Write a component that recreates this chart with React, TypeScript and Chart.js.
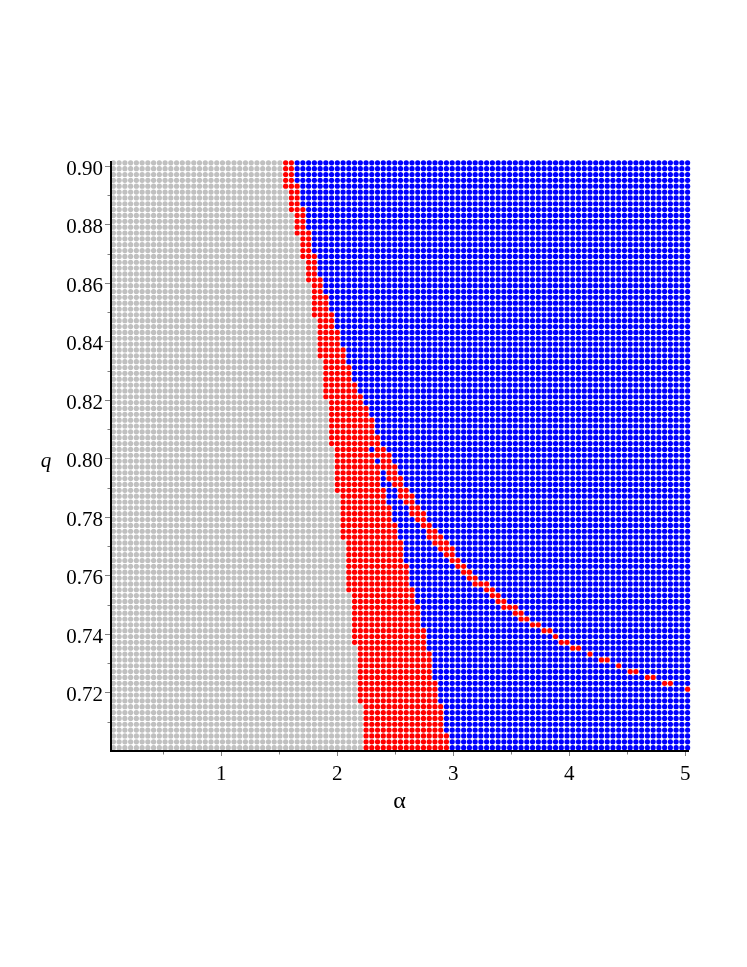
import React, { useEffect, useRef } from "react";
import Chart from "chart.js/auto";

// Parameter grid (101 x 101)
const alphaGrid = [
  0.05, 0.0995, 0.149, 0.1985, 0.248, 0.2975, 0.347, 0.3965, 0.446, 0.4955,
  0.545, 0.5945, 0.644, 0.6935, 0.743, 0.7925, 0.842, 0.8915, 0.941, 0.9905,
  1.04, 1.0895, 1.139, 1.1885, 1.238, 1.2875, 1.337, 1.3865, 1.436, 1.4855,
  1.535, 1.5845, 1.634, 1.6835, 1.733, 1.7825, 1.832, 1.8815, 1.931, 1.9805,
  2.03, 2.0795, 2.129, 2.1785, 2.228, 2.2775, 2.327, 2.3765, 2.426, 2.4755,
  2.525, 2.5745, 2.624, 2.6735, 2.723, 2.7725, 2.822, 2.8715, 2.921, 2.9705,
  3.02, 3.0695, 3.119, 3.1685, 3.218, 3.2675, 3.317, 3.3665, 3.416, 3.4655,
  3.515, 3.5645, 3.614, 3.6635, 3.713, 3.7625, 3.812, 3.8615, 3.911, 3.9605,
  4.01, 4.0595, 4.109, 4.1585, 4.208, 4.2575, 4.307, 4.3565, 4.406, 4.4555,
  4.505, 4.5545, 4.604, 4.6535, 4.703, 4.7525, 4.802, 4.8515, 4.901, 4.9505, 5.0,
];
const qGrid = [
  0.9, 0.898, 0.896, 0.894, 0.892, 0.89, 0.888, 0.886, 0.884, 0.882,
  0.88, 0.878, 0.876, 0.874, 0.872, 0.87, 0.868, 0.866, 0.864, 0.862,
  0.86, 0.858, 0.856, 0.854, 0.852, 0.85, 0.848, 0.846, 0.844, 0.842,
  0.84, 0.838, 0.836, 0.834, 0.832, 0.83, 0.828, 0.826, 0.824, 0.822,
  0.82, 0.818, 0.816, 0.814, 0.812, 0.81, 0.808, 0.806, 0.804, 0.802,
  0.8, 0.798, 0.796, 0.794, 0.792, 0.79, 0.788, 0.786, 0.784, 0.782,
  0.78, 0.778, 0.776, 0.774, 0.772, 0.77, 0.768, 0.766, 0.764, 0.762,
  0.76, 0.758, 0.756, 0.754, 0.752, 0.75, 0.748, 0.746, 0.744, 0.742,
  0.74, 0.738, 0.736, 0.734, 0.732, 0.73, 0.728, 0.726, 0.724, 0.722,
  0.72, 0.718, 0.716, 0.714, 0.712, 0.71, 0.708, 0.706, 0.704, 0.702, 0.7,
];

// First red column for each q row, top to bottom
const redStart = [
  30, 30, 30, 30, 30, 31, 31, 31, 31, 32, 32, 32, 32, 33, 33, 33, 33,
  34, 34, 34, 34, 35, 35, 35, 35, 35, 35, 36, 36, 36, 36, 36, 36, 36,
  37, 37, 37, 37, 37, 37, 37, 38, 38, 38, 38, 38, 38, 38, 38,
  39, 39, 39, 39, 39, 39, 39, 39, 40, 40, 40, 40, 40, 40, 40, 40,
  41, 41, 41, 41, 41, 41, 41, 41, 41, 42, 42, 42, 42, 42, 42, 42, 42, 42,
  43, 43, 43, 43, 43, 43, 43, 43, 43, 43, 44, 44, 44, 44, 44, 44, 44, 44,
];
// Last red column of the main band for each q row
const redEnd = [
  31, 31, 31, 31, 32, 32, 32, 32, 33, 33, 33, 33, 34, 34, 34, 34,
  35, 35, 35, 35, 36, 36, 36, 37, 37, 37, 38, 38, 38, 39, 39, 39,
  40, 40, 40, 41, 41, 41, 42, 42, 43, 43, 44, 44, 45, 45, 45, 46, 46,
  44, 45, 45, 46, 46, 46, 46, 47, 47, 47, 48, 48, 48, 49, 49, 49,
  50, 50, 50, 50, 51, 51, 51, 51, 52, 52, 52, 53, 53, 53, 53,
  54, 54, 54, 54, 55, 55, 55, 55, 55, 56, 56, 56, 56,
  57, 57, 57, 57, 57, 58, 58, 58,
];
// Thin red branch: [row, first column, last column]
const branchRows = [
  [49, 46, 47], [50, 46, 48], [51, 47, 48], [52, 47, 49], [53, 48, 49], [54, 48, 50],
  [55, 49, 50], [56, 50, 51], [57, 50, 52], [58, 51, 52], [59, 52, 53], [60, 52, 54],
  [61, 53, 54], [62, 54, 55], [63, 55, 56], [64, 55, 57], [65, 56, 58], [66, 57, 59],
  [67, 58, 59], [68, 59, 60], [69, 60, 61], [70, 61, 62], [71, 62, 63], [72, 63, 65],
  [73, 65, 66], [74, 66, 67], [75, 67, 68], [76, 68, 70], [77, 70, 71], [78, 71, 72],
  [79, 73, 74], [80, 75, 76], [81, 77, 77], [82, 78, 79], [83, 80, 81], [84, 83, 83],
  [85, 85, 86], [86, 88, 88], [87, 90, 91], [88, 93, 94], [89, 96, 97], [90, 100, 100],
];

const xTicks = [1, 2, 3, 4, 5];
const xMinorTicks = [0.5, 1.5, 2.5, 3.5, 4.5];
const yTicks = [0.72, 0.74, 0.76, 0.78, 0.8, 0.82, 0.84, 0.86, 0.88, 0.9];
const yMinorTicks = [0.71, 0.73, 0.75, 0.77, 0.79, 0.81, 0.83, 0.85, 0.87, 0.89];

const GRAY = "#c0c0c0";
const RED = "#ff0000";
const BLUE = "#0000ff";
const FONT = '"Liberation Serif", serif';
const DOT_SHIFT_X = 0.0207;
const DOT_SHIFT_Y = 0.00115;

function buildPoints() {
  const gray: { x: number; y: number }[] = [];
  const red: { x: number; y: number }[] = [];
  const blue: { x: number; y: number }[] = [];
  qGrid.forEach((q, r) => {
    const branch = branchRows.find((b) => b[0] === r);
    alphaGrid.forEach((a, c) => {
      const pt = { x: a + DOT_SHIFT_X, y: q + DOT_SHIFT_Y };
      if (c < redStart[r]) gray.push(pt);
      else if (c <= redEnd[r] || (branch && c >= branch[1] && c <= branch[2])) red.push(pt);
      else blue.push(pt);
    });
  });
  return { gray, red, blue };
}

const decorPlugin = {
  id: "decor",
  afterDatasetsDraw(chart: any) {
    const { ctx, scales, chartArea } = chart;
    ctx.save();
    ctx.strokeStyle = "#808080";
    ctx.lineWidth = 1;
    ctx.beginPath();
    xMinorTicks.forEach((v) => {
      const px = Math.round(scales.x.getPixelForValue(v)) + 0.5;
      ctx.moveTo(px, chartArea.bottom);
      ctx.lineTo(px, chartArea.bottom + 3.5);
    });
    yMinorTicks.forEach((v) => {
      const py = Math.round(scales.y.getPixelForValue(v)) + 0.5;
      ctx.moveTo(chartArea.left, py);
      ctx.lineTo(chartArea.left - 3.5, py);
    });
    ctx.stroke();
    ctx.fillStyle = "#000";
    ctx.font = `italic 21px ${FONT}`;
    ctx.textAlign = "center";
    ctx.textBaseline = "middle";
    ctx.fillText("q", 46, scales.y.getPixelForValue(0.8) + 3);
    ctx.restore();
  },
};

export default function App() {
  const ref = useRef<HTMLCanvasElement>(null);
  useEffect(() => {
    const { gray, red, blue } = buildPoints();
    const dot = { pointRadius: 2.6, pointHoverRadius: 2.6, borderWidth: 0, showLine: false, clip: false as any };
    const chart = new Chart(ref.current as HTMLCanvasElement, {
      type: "scatter",
      data: {
        datasets: [
          { label: "gray", data: gray, backgroundColor: GRAY, ...dot },
          { label: "blue", data: blue, backgroundColor: BLUE, ...dot },
          { label: "red", data: red, backgroundColor: RED, ...dot },
        ],
      },
      options: {
        responsive: false,
        animation: false,
        layout: { padding: { left: 0, top: 162, right: 59, bottom: 153 } },
        plugins: { legend: { display: false }, tooltip: { enabled: false } },
        scales: {
          x: {
            type: "linear",
            min: 0.05,
            max: 5.0241,
            afterBuildTicks: (s: any) => { s.ticks = xTicks.map((value) => ({ value })); },
            afterFit: (s: any) => { s.height = 63; },
            grid: { drawOnChartArea: false, tickLength: 5, tickColor: "#808080", tickWidth: 1 },
            border: { display: true, color: "#000", width: 2, z: 2 },
            ticks: {
              color: "#000",
              font: { family: FONT, size: 21 },
              padding: 6,
              maxRotation: 0,
              autoSkip: false,
              callback: (v: any) => String(v),
            },
            title: {
              display: true,
              text: "α",
              color: "#000",
              font: { family: FONT, size: 24, lineHeight: 1 },
              padding: 0,
            },
          },
          y: {
            type: "linear",
            min: 0.7,
            max: 0.90143,
            afterBuildTicks: (s: any) => { s.ticks = yTicks.map((value) => ({ value })); },
            afterFit: (s: any) => { s.width = 111; },
            grid: { drawOnChartArea: false, tickLength: 6, tickColor: "#808080", tickWidth: 1 },
            border: { display: true, color: "#000", width: 2, z: 2 },
            ticks: {
              color: "#000",
              font: { family: FONT, size: 21 },
              padding: 2,
              labelOffset: 3,
              autoSkip: false,
              callback: (v: any) => Number(v).toFixed(2),
            },
          },
        },
      },
      plugins: [decorPlugin],
    } as any);
    return () => chart.destroy();
  }, []);
  return (
    <canvas
      ref={ref}
      width={747}
      height={967}
      style={{ position: "absolute", left: 0, top: 0, display: "block", width: 747, height: 967 }}
    />
  );
}
